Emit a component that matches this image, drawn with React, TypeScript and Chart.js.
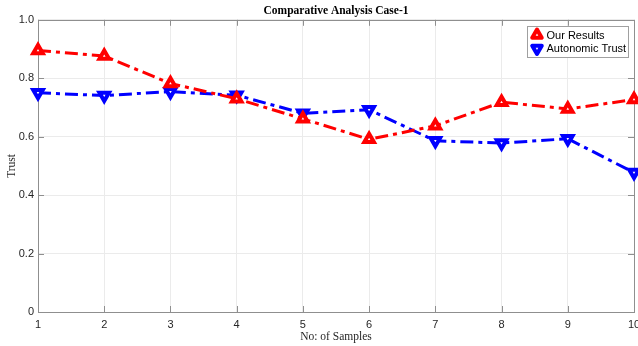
import React, { useEffect, useRef } from 'react';
import { Chart, registerables } from 'chart.js';

Chart.register(...registerables);

const samples = ['1', '2', '3', '4', '5', '6', '7', '8', '9', '10'];
const ourResults = [0.895, 0.876, 0.782, 0.73, 0.661, 0.591, 0.637, 0.718, 0.695, 0.727];
const autonomicTrust = [0.75, 0.741, 0.754, 0.742, 0.68, 0.692, 0.586, 0.578, 0.593, 0.477];
const yTickLabels = ['0', '0.2', '0.4', '0.6', '0.8', '1.0'];
const seriesNames = ['Our Results', 'Autonomic Trust'];
const chartTitle = 'Comparative Analysis Case-1';
const xTitle = 'No: of Samples';
const yTitle = 'Trust';

const FRAME = '#8f8f8f';
const TICK_FONT = { family: 'Liberation Sans', size: 11 };

function tri(ctx: CanvasRenderingContext2D, x: number, y: number, r: number, down: boolean) {
  ctx.beginPath();
  let rad = down ? Math.PI : 0;
  for (let i = 0; i < 3; i++) {
    const px = x + Math.sin(rad) * r;
    const py = y - Math.cos(rad) * r;
    if (i === 0) ctx.moveTo(px, py);
    else ctx.lineTo(px, py);
    rad += (2 * Math.PI) / 3;
  }
  ctx.closePath();
}

const framePlugin = {
  id: 'frame',
  beforeDatasetsDraw(chart: any) {
    const { ctx, chartArea } = chart;
    const { left, right, top, bottom } = chartArea;
    const xs = chart.scales.x;
    const ys = chart.scales.y;
    ctx.save();
    ctx.strokeStyle = FRAME;
    ctx.lineWidth = 1;
    ctx.strokeRect(Math.round(left) + 0.5, Math.round(top) + 0.5, Math.round(right - left), Math.round(bottom - top));
    const tl = 6;
    ctx.beginPath();
    xs.ticks.forEach((_t: any, i: number) => {
      const px = Math.round(xs.getPixelForTick(i)) + 0.5;
      ctx.moveTo(px, bottom);
      ctx.lineTo(px, bottom - tl);
      ctx.moveTo(px, top);
      ctx.lineTo(px, top + tl);
    });
    ys.ticks.forEach((_t: any, i: number) => {
      const py = Math.round(ys.getPixelForTick(i)) + 0.5;
      ctx.moveTo(left, py);
      ctx.lineTo(left + tl, py);
      ctx.moveTo(right, py);
      ctx.lineTo(right - tl, py);
    });
    ctx.stroke();
    ctx.restore();
  },
};

const legendPlugin = {
  id: 'boxLegend',
  afterDraw(chart: any) {
    const { ctx, chartArea } = chart;
    ctx.save();
    ctx.font = '11px "Liberation Sans"';
    const datasets = chart.data.datasets;
    const maxW = Math.max(...datasets.map((d: any) => ctx.measureText(d.label).width));
    const bw = Math.round(19 + maxW + 2);
    const bh = 31;
    const bx = Math.round(chartArea.right - 6 - bw) + 0.5;
    const by = Math.round(chartArea.top + 6) + 0.5;
    ctx.fillStyle = '#ffffff';
    ctx.fillRect(bx, by, bw, bh);
    ctx.strokeStyle = '#a0a0a0';
    ctx.lineWidth = 1;
    ctx.strokeRect(bx, by, bw, bh);
    datasets.forEach((d: any, i: number) => {
      const cy = by + 8.5 + i * 13.5;
      const mx = bx + 9.5;
      ctx.lineWidth = 4;
      ctx.lineJoin = 'round';
      ctx.strokeStyle = d.borderColor;
      ctx.fillStyle = '#ffffff';
      tri(ctx, mx, cy, 5.5, i === 1);
      ctx.fill();
      ctx.stroke();
      ctx.fillStyle = '#000000';
      ctx.textBaseline = 'middle';
      ctx.textAlign = 'left';
      ctx.fillText(d.label, bx + 19, cy + 0.5);
    });
    ctx.restore();
  },
};

export default function App() {
  const ref = useRef<HTMLCanvasElement | null>(null);

  useEffect(() => {
    document.body.style.margin = '0';
    const canvas = ref.current;
    if (!canvas) return;
    const chart = new Chart(canvas, {
      type: 'line',
      data: {
        labels: samples,
        datasets: [
          {
            label: seriesNames[0],
            data: ourResults,
            borderColor: '#ff0000',
            backgroundColor: '#ffffff',
            borderWidth: 3,
            borderDash: [13, 5, 4, 5],
            pointStyle: 'triangle',
            pointRadius: 5.5,
            pointBorderWidth: 4,
            pointBackgroundColor: '#ffffff',
            pointBorderColor: '#ff0000',
            tension: 0,
            clip: false as any,
          },
          {
            label: seriesNames[1],
            data: autonomicTrust,
            borderColor: '#0000ff',
            backgroundColor: '#ffffff',
            borderWidth: 3,
            borderDash: [13, 5, 4, 5],
            pointStyle: 'triangle',
            pointRotation: 180,
            pointRadius: 5.5,
            pointBorderWidth: 4,
            pointBackgroundColor: '#ffffff',
            pointBorderColor: '#0000ff',
            tension: 0,
            clip: false as any,
          },
        ],
      },
      options: {
        animation: false,
        responsive: false,
        devicePixelRatio: 1,
        layout: { autoPadding: false, padding: { left: 0, right: 4, top: 0, bottom: 0 } },
        plugins: {
          legend: { display: false },
          tooltip: { enabled: false },
          title: {
            display: true,
            fullSize: false,
            text: chartTitle,
            color: '#000000',
            font: { family: 'Liberation Serif', size: 11.5, weight: 'bold' },
            padding: { top: 4, bottom: 2 },
          },
        },
        scales: {
          x: {
            type: 'category',
            offset: false,
            grid: { color: '#ebebeb', drawTicks: false },
            border: { display: false },
            ticks: { color: '#262626', font: TICK_FONT, padding: 6, maxRotation: 0, autoSkip: false },
            title: {
              display: true,
              text: xTitle,
              color: '#262626',
              font: { family: 'Liberation Serif', size: 11.5 },
              padding: { top: 0, bottom: 2 },
            },
            afterFit: (scale: any) => {
              scale.height = 34;
              scale.paddingLeft = 0;
              scale.paddingRight = 0;
            },
          },
          y: {
            min: 0,
            max: 1,
            grid: { color: '#ebebeb', drawTicks: false },
            border: { display: false },
            ticks: {
              stepSize: 0.2,
              color: '#262626',
              font: TICK_FONT,
              padding: 4,
              callback: (_v: any, i: number) => yTickLabels[i],
            },
            title: {
              display: true,
              text: yTitle,
              color: '#262626',
              font: { family: 'Liberation Serif', size: 11.5 },
              padding: { top: 5, bottom: 0 },
            },
            afterFit: (scale: any) => {
              scale.width = 38;
            },
          },
        },
      },
      plugins: [framePlugin, legendPlugin],
    } as any);
    return () => chart.destroy();
  }, []);

  return (
    <div style={{ position: 'absolute', left: 0, top: 0, width: 638, height: 346 }}>
      <canvas ref={ref} width={638} height={346} style={{ width: 638, height: 346, display: 'block' }} />
    </div>
  );
}
